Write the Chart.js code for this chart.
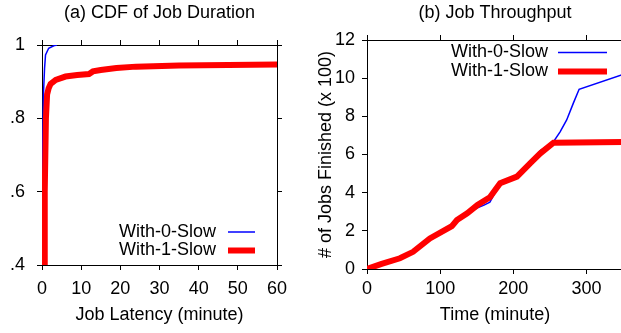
<!DOCTYPE html>
<html>
<head>
<meta charset="utf-8">
<title>Job Duration and Throughput</title>
<script src="https://cdn.jsdelivr.net/npm/chart.js@4.4.0/dist/chart.umd.min.js"></script>
<style>
    body {
        margin: 0;
        background: #fff;
        width: 621px;
        height: 333px;
        overflow: hidden;
        position: relative;
    }
    .panel { position: absolute; top: 0; }
    #left { left: 0; width: 300px; height: 333px; }
    #right { left: 300px; width: 330px; height: 333px; }
</style>
</head>
<body>
<div class="panel" id="left"><canvas id="cdfChart" width="300" height="333"></canvas></div>
<div class="panel" id="right"><canvas id="tputChart" width="330" height="333"></canvas></div>

<script>
// (a) CDF of job latency (minutes)
const cdfLatency0 = [0, 0.1, 0.2, 0.35, 0.65, 0.9, 1.7, 3.0, 3.8];
const cdfValue0   = [0.3, 0.4, 0.7, 0.86, 0.936, 0.973, 0.991, 0.998, 1.0];
const cdfLatency1 = [0.4, 0.55, 0.7, 1.0, 1.3, 1.7, 2.2, 3.5, 6, 9, 12, 13, 15, 19, 24, 35, 60];
const cdfValue1   = [0.3, 0.4, 0.6, 0.8, 0.865, 0.882, 0.894, 0.905, 0.914, 0.918, 0.921, 0.928, 0.932, 0.937, 0.941, 0.944, 0.947];
const cdfXTicks = [0, 10, 20, 30, 40, 50, 60];
const cdfYTicks = [0.4, 0.6, 0.8, 1.0];
const cdfYTickLabels = ['.4', '.6', '.8', '1'];

// (b) jobs finished over time (x 100)
const tputTime0 = [0, 20, 45, 63, 86, 116, 123, 137, 151, 160, 168, 182, 205, 223, 237, 255, 264, 273, 282, 290, 350];
const tputJobs0 = [0, 0.27, 0.56, 0.9, 1.6, 2.25, 2.57, 2.92, 3.2, 3.35, 3.5, 4.49, 4.9, 5.55, 6.2, 6.67, 7.19, 7.81, 8.68, 9.42, 10.2];
const tputTime1 = [0, 20, 45, 63, 86, 116, 123, 137, 151, 168, 182, 205, 223, 237, 255, 350];
const tputJobs1 = [0, 0.27, 0.56, 0.9, 1.6, 2.25, 2.57, 2.92, 3.35, 3.76, 4.49, 4.84, 5.54, 6.06, 6.62, 6.65];
const tputXTicks = [0, 100, 200, 300];
const tputYTicks = [0, 2, 4, 6, 8, 10, 12];

const seriesNames = ['With-0-Slow', 'With-1-Slow'];

Chart.defaults.font.family = '"Liberation Sans", Arial, sans-serif';
Chart.defaults.font.size = 18;
Chart.defaults.color = '#000';

function toPoints(xs, ys) {
    return xs.map((x, i) => ({ x: x, y: ys[i] }));
}

// legend drawn inside the plot, gnuplot style (text then sample line)
const insideLegend = {
    id: 'insideLegend',
    afterDatasetsDraw(chart, args, opts) {
        const ctx = chart.ctx;
        ctx.save();
        ctx.font = '18px "Liberation Sans", Arial, sans-serif';
        ctx.fillStyle = '#000';
        ctx.textAlign = 'right';
        ctx.textBaseline = 'middle';
        chart.data.datasets.forEach((ds, i) => {
            const y = opts.top + i * opts.rowHeight;
            ctx.fillText(ds.label, opts.textRight, y);
            ctx.strokeStyle = ds.borderColor;
            ctx.lineWidth = ds.borderWidth;
            ctx.beginPath();
            ctx.moveTo(opts.lineStart, y);
            ctx.lineTo(opts.lineEnd, y);
            ctx.stroke();
        });
        ctx.restore();
    }
};

function tickAxis(pos, min, max, ticks, size, extra) {
    const axis = {
        type: 'linear',
        position: pos,
        min: min,
        max: max,
        afterBuildTicks: s => { s.ticks = ticks.map(v => ({ value: v })); },
        afterFit: s => {
            if (pos === 'top' || pos === 'bottom') s.height = size; else s.width = size;
        },
        border: { display: true, color: '#000', width: 1 },
        grid: { drawOnChartArea: false, color: '#000', tickLength: 5, lineWidth: 1 },
        ticks: { display: false }
    };
    return Object.assign(axis, extra || {});
}

function lineSet(label, pts, color, width, order) {
    return {
        label: label,
        data: pts,
        borderColor: color,
        backgroundColor: color,
        borderWidth: width,
        pointRadius: 0,
        tension: 0,
        fill: false,
        order: order
    };
}

// ---------- (a) CDF ----------
new Chart(document.getElementById('cdfChart'), {
    type: 'line',
    data: {
        datasets: [
            Object.assign(lineSet(seriesNames[0], toPoints(cdfLatency0, cdfValue0), '#0000ff', 1.5, 1), { clip: 0 }),
            Object.assign(lineSet(seriesNames[1], toPoints(cdfLatency1, cdfValue1), '#ff0000', 6, 0), { clip: 0 })
        ]
    },
    plugins: [insideLegend],
    options: {
        responsive: false,
        animation: false,
        layout: { padding: 0 },
        plugins: {
            legend: { display: false },
            tooltip: { enabled: false },
            insideLegend: { textRight: 216, lineStart: 228, lineEnd: 255, top: 232, rowHeight: 18.5 }
        },
        scales: {
            x: tickAxis('bottom', 0, 60, cdfXTicks, 68, {
                ticks: { display: true, padding: 8, maxRotation: 0, color: '#000' },
                title: { display: true, text: 'Job Latency (minute)', color: '#000', padding: { top: 0, bottom: 7 } }
            }),
            xTop: tickAxis('top', 0, 60, cdfXTicks, 45, {
                title: { display: true, text: '(a) CDF of Job Duration', color: '#000', padding: { top: 2, bottom: 0 } }
            }),
            y: tickAxis('left', 0.4, 1, cdfYTicks, 42, {
                ticks: { display: true, padding: 12, color: '#000', callback: (v, i) => cdfYTickLabels[i] }
            }),
            yRight: tickAxis('right', 0.4, 1, cdfYTicks, 23)
        }
    }
});

// ---------- (b) throughput ----------
new Chart(document.getElementById('tputChart'), {
    type: 'line',
    data: {
        datasets: [
            lineSet(seriesNames[0], toPoints(tputTime0, tputJobs0), '#0000ff', 1.5, 1),
            lineSet(seriesNames[1], toPoints(tputTime1, tputJobs1), '#ff0000', 6, 0)
        ]
    },
    plugins: [insideLegend],
    options: {
        responsive: false,
        animation: false,
        layout: { padding: { right: 7 } },
        plugins: {
            legend: { display: false },
            tooltip: { enabled: false },
            insideLegend: { textRight: 248, lineStart: 258, lineEnd: 307, top: 52.5, rowHeight: 19 }
        },
        scales: {
            x: tickAxis('bottom', 0, 350, tputXTicks, 64, {
                ticks: { display: true, padding: 4, maxRotation: 0, color: '#000' },
                title: { display: true, text: 'Time (minute)', color: '#000', padding: { top: 0, bottom: 7 } }
            }),
            xTop: tickAxis('top', 0, 350, tputXTicks, 40, {
                title: { display: true, text: '(b) Job Throughput', color: '#000', padding: { top: 2, bottom: 0 } }
            }),
            y: tickAxis('left', 0, 12, tputYTicks, 67, {
                ticks: { display: true, padding: 7, color: '#000' },
                title: { display: true, text: '# of Jobs Finished (x 100)', color: '#000', padding: { top: 15, bottom: 0 } }
            })
        }
    }
});
</script>
</body>
</html>
